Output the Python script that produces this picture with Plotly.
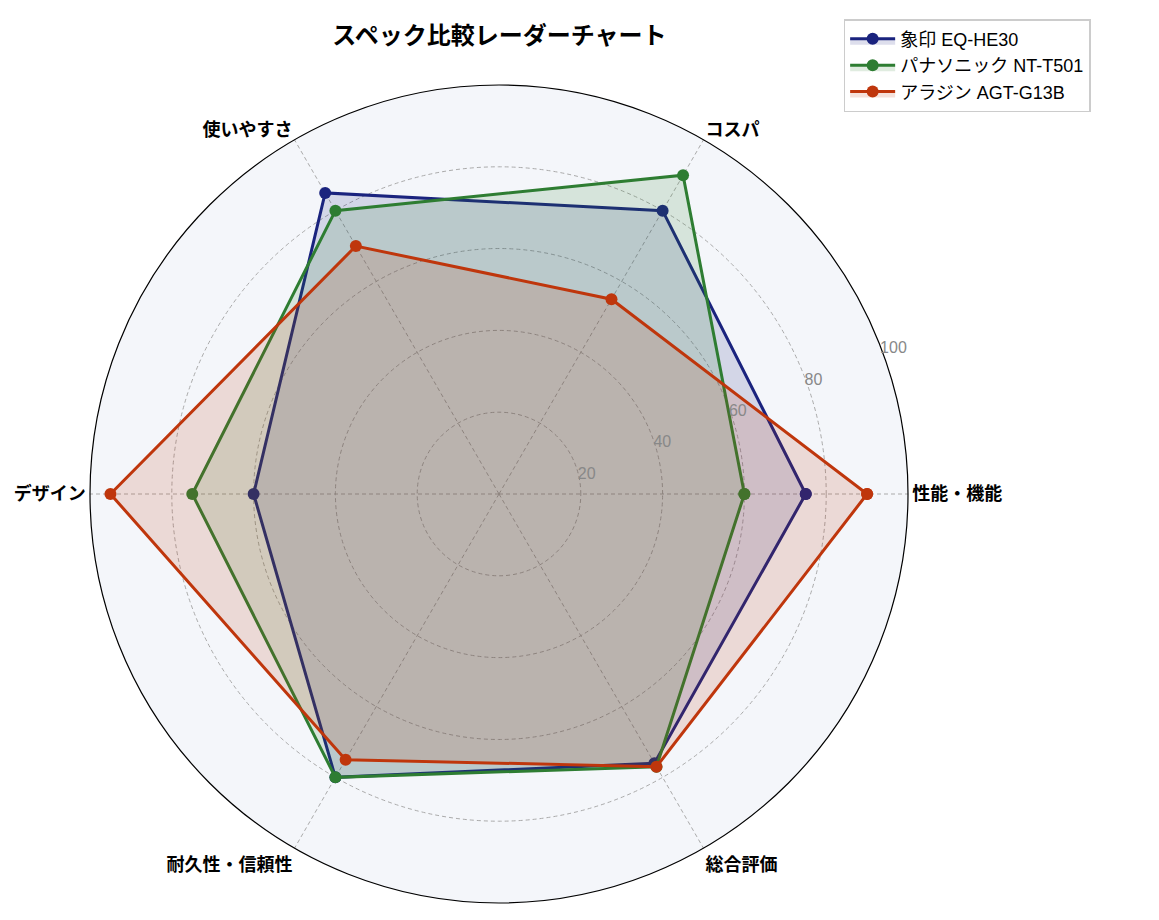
import plotly.graph_objects as go

categories = ["性能・機能", "コスパ", "使いやすさ", "デザイン", "耐久性・信頼性", "総合評価"]
names = ["象印 EQ-HE30", "パナソニック NT-T501", "アラジン AGT-G13B"]
zojirushi = [75, 80, 85, 60, 80, 76]
panasonic = [60, 90, 80, 75, 80, 77]
aladdin = [90, 55, 70, 95, 75, 77]
colors = ["#1a237e", "#2e7d32", "#bf360c"]
fills = ["rgba(26,35,126,0.15)", "rgba(46,125,50,0.15)", "rgba(191,54,12,0.15)"]
radial_ticks = [20, 40, 60, 80, 100]

FONT = "Noto Sans CJK JP"
LATIN = "Liberation Sans, Noto Sans CJK JP"

fig = go.Figure()
for name, vals, c, fc in zip(names, [zojirushi, panasonic, aladdin], colors, fills):
    fig.add_trace(go.Scatterpolar(
        r=vals + vals[:1],
        theta=categories + categories[:1],
        name=name,
        mode="lines+markers",
        line=dict(color=c, width=3),
        marker=dict(color=c, size=12),
        fill="toself",
        fillcolor=fc,
    ))

fig.update_layout(
    width=1159, height=920,
    margin=dict(l=0, r=0, t=0, b=0),
    paper_bgcolor="white",
    font=dict(family=FONT, color="black"),
    title=dict(text="<b>スペック比較レーダーチャート</b>", x=0.424, xanchor="center",
               y=0.97, yanchor="middle", font=dict(size=24, color="black")),
    polar=dict(
        domain=dict(x=[82 / 1159, 900 / 1159], y=[1 - 895 / 920, 1 - 77 / 920]),
        bgcolor="#f4f6fa",
        radialaxis=dict(range=[0, 100], tickvals=radial_ticks, angle=22.5,
                        tickangle=22.5, showline=False, ticks="",
                        gridcolor="#aaaaaa", griddash="4px,3px", gridwidth=0.8,
                        tickfont=dict(family=LATIN, size=16, color="#888888")),
        angularaxis=dict(direction="counterclockwise", rotation=0,
                         showline=True, linecolor="black", linewidth=1.2,
                         gridcolor="#aaaaaa", griddash="4px,3px", gridwidth=0.8,
                         ticks="", tickfont=dict(size=18, color="black", weight="bold")),
    ),
    legend=dict(x=0.721, y=0.988, xanchor="left", yanchor="top",
                bgcolor="white", bordercolor="#cccccc", borderwidth=1.5,
                font=dict(family=LATIN, size=18, color="black"), itemwidth=45,
                tracegroupgap=4),
)

fig.write_html("out.html")
